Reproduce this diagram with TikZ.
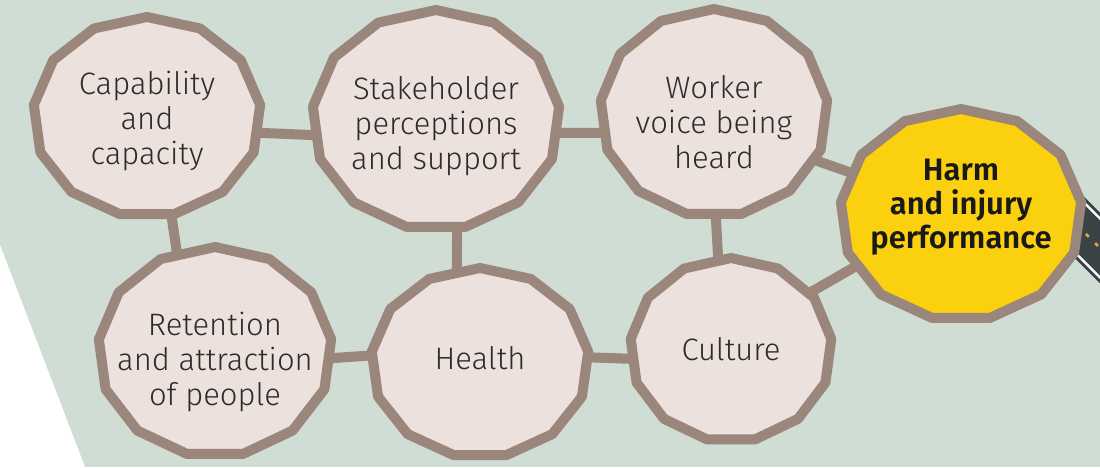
\documentclass[tikz,border=0pt]{standalone}
\usepackage{fontspec}
\setmainfont{Fira Sans Light}[BoldFont={Fira Sans SemiBold}]
\usetikzlibrary{shapes.geometric}

\definecolor{sage}{HTML}{CFDDD5}
\definecolor{taupe}{HTML}{9A867A}
\definecolor{blush}{HTML}{EDE1DE}
\definecolor{gold}{HTML}{FBD10F}
\definecolor{asphalt}{HTML}{3A4346}
\definecolor{amber}{HTML}{E9A43A}
\definecolor{ink}{HTML}{2C2C2C}

\begin{document}
\begin{tikzpicture}[x=1pt, y=-1pt,
	style={align=center, text=ink},
	ring/.style={line width=10pt, draw=taupe, line join=round},
	hub/.style={ellipse, inner sep=0pt, outer sep=0pt},
	soft/.style={font=\fontsize{31}{35}\selectfont},
	goal/.style={font=\fontsize{31}{34}\selectfont\bfseries, text=black!90},
	link/.style={line width=10pt, draw=taupe}]
		
		\useasboundingbox (0,0) rectangle (1100,467);
		\clip (0,0) rectangle (1100,467);
		\fill[sage] (0,0) rectangle (1100,467);
		\fill[white] (0,245) -- (85,467) -- (0,467) -- cycle;
		
		% road leaving the goal
		\draw[asphalt, line width=50pt] (1040,188) -- (1140,288);
		\draw[white, line width=44pt] (1040,188) -- (1140,288);
		\draw[asphalt, line width=39pt] (1040,188) -- (1140,288);
		\draw[amber, line width=2.5pt, dash pattern=on 4pt off 9pt] (1040,188) -- (1140,288);
		
		\foreach \nm/\cx/\cy/\rx/\ry/\fc/\st/\ty/\txt in {
			CAP/147/117/114/100/blush/soft/4/{Capability\\and\\capacity},
			SH/436/120/124/110/blush/soft/6/{Stakeholder\\perceptions\\and support},
			WV/714/113/114/104/blush/soft/9/{Worker\\voice being\\heard},
			HARM/961/215/121/106/gold/goal/-8/{Harm\\and injury\\performance},
			RET/215/352/117/105/blush/soft/10/{Retention\\and attraction\\of people},
			HLT/480/363/109/95/blush/soft/-5/{Health},
			CUL/731/350/101/92/blush/soft/-1/{Culture}}{
			\filldraw[ring, fill=\fc] plot[samples=14, domain=90:450, variable=\t]
				({\cx+\rx*cos(\t)},{\cy-\ry*sin(\t)}) -- cycle;
			\node[hub, minimum width={2*\rx*1pt}, minimum height={2*\ry*1pt}] (\nm) at (\cx,\cy) {};
			\node[\st] (\nm-txt) at (\cx,\cy+\ty) {\txt};
		}
		
		\draw[link] (CAP.-8) -- (SH.187);
		\draw[link] (SH.-6) -- (WV.190);
		\draw[link] (CAP.-76) -- (RET.111);
		\draw[link] (SH.-79) -- (HLT.104);
		\draw[link] (WV.-89) -- (CUL.98);
		\draw[link] (WV.-25) -- (HARM.159);
		\draw[link] (CUL.36) -- (HARM.206);
		\draw[link] (RET.-3) -- (HLT.176);
		\draw[link] (HLT.3) -- (CUL.185);
		\end{tikzpicture}
\end{document}
